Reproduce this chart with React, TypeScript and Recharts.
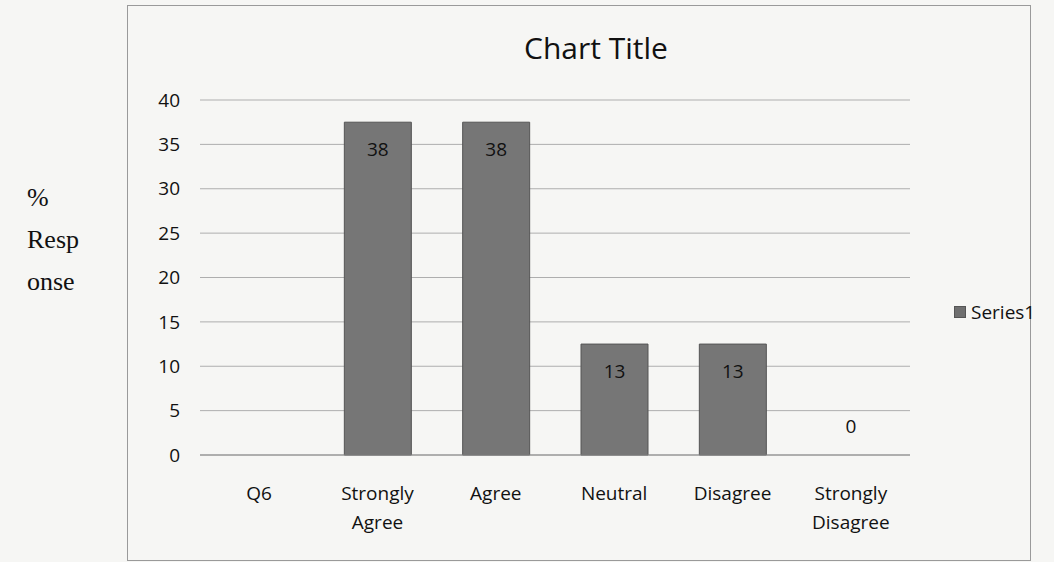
import React from 'react';
import { BarChart, Bar, XAxis, YAxis, CartesianGrid, LabelList, ReferenceDot } from 'recharts';

const categories = ['Q6', 'Strongly Agree', 'Agree', 'Neutral', 'Disagree', 'Strongly Disagree'];
const series1: (number | null)[] = [null, 37.5, 37.5, 12.5, 12.5, 0];
const yTicks = [0, 5, 10, 15, 20, 25, 30, 35, 40];
const seriesName = 'Series1';

const data = categories.map((name, i) => ({ name, [seriesName]: series1[i] }));
// zero-height bars get no label from the Bar itself, so mark them separately
const zeroPoints = data.filter((d) => d[seriesName] === 0);

const FONT = '"Open Sans", "Liberation Sans", sans-serif';

const CategoryTick = (props: any) => {
  const { x, y, payload } = props;
  const words: string[] = String(payload.value).split(' ');
  return (
    <text x={x} y={y} textAnchor="middle" fontFamily={FONT} fontSize={19} fill="#111">
      {words.map((w, i) => (
        <tspan key={i} x={x} dy={i === 0 ? 37 : 29}>{w}</tspan>
      ))}
    </text>
  );
};

const BarValue = (props: any) => {
  const { x, y, width, value } = props;
  if (value === null || value === undefined) return null;
  return (
    <text x={x + width / 2} y={y + 34} textAnchor="middle" fontFamily={FONT} fontSize={19} fill="#111">
      {Math.round(Number(value))}
    </text>
  );
};

const App: React.FC = () => {
  return (
    <div style={{ position: 'absolute', left: 0, top: 0, width: 1054, height: 562, background: '#f6f6f4', overflow: 'hidden' }}>
      {/* chart frame */}
      <div style={{ position: 'absolute', left: 127, top: 5, width: 904, height: 556, border: '1px solid #9a9a9a', boxSizing: 'border-box' }} />
      {/* side label */}
      <div style={{ position: 'absolute', left: 27, top: 177, fontFamily: '"Liberation Serif", "DejaVu Serif", serif', fontSize: 26, lineHeight: '42px', color: '#111' }}>
        %<br />Resp<br />onse
      </div>
      {/* legend */}
      <div style={{ position: 'absolute', left: 954, top: 299, fontFamily: FONT, fontSize: 19, color: '#111', display: 'flex', alignItems: 'center' }}>
        <span style={{ display: 'inline-block', width: 10, height: 10, background: '#6f6f6f', border: '1px solid #555', marginRight: 5 }} />
        {seriesName}
      </div>
      <div style={{ position: 'absolute', left: 0, top: 0 }}>
        <BarChart width={1054} height={562} data={data} margin={{ top: 100, right: 144, bottom: 47, left: 130 }}>
          <text x={596} y={59} textAnchor="middle" fontFamily={FONT} fontSize={30} fill="#111">Chart Title</text>
          <CartesianGrid vertical={false} stroke="#aeaeae" />
          <XAxis dataKey="name" height={60} stroke="#8a8a8a" tickLine={false} tick={<CategoryTick />} interval={0} />
          <YAxis
            width={70}
            domain={[0, 40]}
            ticks={yTicks}
            axisLine={false}
            tickLine={false}
            tickMargin={14}
            tick={{ fontFamily: FONT, fontSize: 19, fill: '#111' }}
          />
          <Bar dataKey={seriesName} fill="#767676" stroke="#555555" strokeWidth={1} barSize={67} isAnimationActive={false}>
            <LabelList dataKey={seriesName} content={<BarValue />} />
          </Bar>
          {zeroPoints.map((d) => (
            <ReferenceDot
              key={d.name}
              x={d.name}
              y={d[seriesName] as number}
              r={0}
              stroke="none"
              fill="none"
              label={{ value: String(d[seriesName]), position: 'top', offset: 22, fontFamily: FONT, fontSize: 19, fill: '#111' }}
            />
          ))}
        </BarChart>
      </div>
    </div>
  );
};

export default App;
